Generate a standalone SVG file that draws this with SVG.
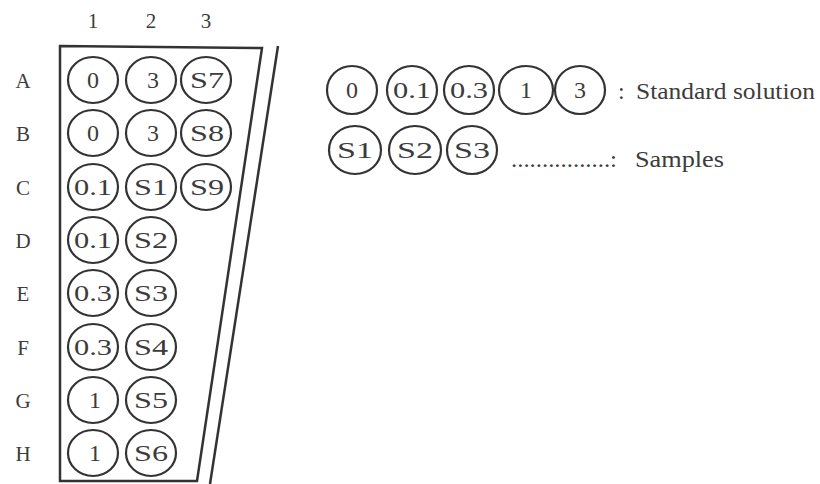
<svg xmlns="http://www.w3.org/2000/svg" width="820" height="484" viewBox="0 0 820 484">
<style>
.bg{fill:#ffffff}
.plate{fill:none;stroke:#333;stroke-width:2.5}
.well{fill:none;stroke:#333;stroke-width:2.2}
.t{font-family:"Liberation Serif","Times New Roman",serif;fill:#3c3c3c;text-anchor:middle}
.w{font-size:24px}
.lab{font-size:21px}
.leg{font-family:"Liberation Serif","Times New Roman",serif;fill:#3c3c3c;font-size:24px}
</style>
<rect class="bg" x="0" y="0" width="820" height="484"/>
<g id="columns">
<text class="t lab" x="93" y="28">1</text>
<text class="t lab" x="151" y="28">2</text>
<text class="t lab" x="206" y="28">3</text>
</g>
<g id="rows">
<text class="t lab" x="23" y="88">A</text>
<text class="t lab" x="23" y="141">B</text>
<text class="t lab" x="23" y="195">C</text>
<text class="t lab" x="23" y="248">D</text>
<text class="t lab" x="23" y="301">E</text>
<text class="t lab" x="23" y="355">F</text>
<text class="t lab" x="23" y="408">G</text>
<text class="t lab" x="23" y="461">H</text>
</g>
<g id="plate">
<polygon class="plate" points="60,46 262,48 197,481 60,481"/>
<line class="plate" x1="278" y1="46" x2="210" y2="484"/>
</g>
<g id="wells">
<g id="A1"><ellipse class="well" cx="93" cy="80" rx="25" ry="23"/><text class="t w" x="93" y="88">0</text></g>
<g id="A2"><ellipse class="well" cx="151" cy="80" rx="25" ry="23"/><text class="t w" x="153" y="88">3</text></g>
<g id="A3"><ellipse class="well" cx="206" cy="80" rx="25" ry="23"/><text class="t w" x="207" y="88" textLength="34" lengthAdjust="spacingAndGlyphs">S7</text></g>
<g id="B1"><ellipse class="well" cx="93" cy="133" rx="25" ry="23"/><text class="t w" x="93" y="141">0</text></g>
<g id="B2"><ellipse class="well" cx="151" cy="133" rx="25" ry="23"/><text class="t w" x="153" y="141">3</text></g>
<g id="B3"><ellipse class="well" cx="206" cy="133" rx="25" ry="23"/><text class="t w" x="207" y="141" textLength="34" lengthAdjust="spacingAndGlyphs">S8</text></g>
<g id="C1"><ellipse class="well" cx="93" cy="187" rx="25" ry="23"/><text class="t w" x="93" y="195" textLength="38" lengthAdjust="spacingAndGlyphs">0.1</text></g>
<g id="C2"><ellipse class="well" cx="151" cy="187" rx="25" ry="23"/><text class="t w" x="151" y="195" textLength="34" lengthAdjust="spacingAndGlyphs">S1</text></g>
<g id="C3"><ellipse class="well" cx="206" cy="187" rx="25" ry="23"/><text class="t w" x="207" y="195" textLength="34" lengthAdjust="spacingAndGlyphs">S9</text></g>
<g id="D1"><ellipse class="well" cx="93" cy="240" rx="25" ry="23"/><text class="t w" x="93" y="248" textLength="38" lengthAdjust="spacingAndGlyphs">0.1</text></g>
<g id="D2"><ellipse class="well" cx="151" cy="240" rx="25" ry="23"/><text class="t w" x="151" y="248" textLength="34" lengthAdjust="spacingAndGlyphs">S2</text></g>
<g id="E1"><ellipse class="well" cx="93" cy="293" rx="25" ry="23"/><text class="t w" x="93" y="301" textLength="38" lengthAdjust="spacingAndGlyphs">0.3</text></g>
<g id="E2"><ellipse class="well" cx="151" cy="293" rx="25" ry="23"/><text class="t w" x="151" y="301" textLength="34" lengthAdjust="spacingAndGlyphs">S3</text></g>
<g id="F1"><ellipse class="well" cx="93" cy="347" rx="25" ry="23"/><text class="t w" x="93" y="355" textLength="38" lengthAdjust="spacingAndGlyphs">0.3</text></g>
<g id="F2"><ellipse class="well" cx="151" cy="347" rx="25" ry="23"/><text class="t w" x="151" y="355" textLength="34" lengthAdjust="spacingAndGlyphs">S4</text></g>
<g id="G1"><ellipse class="well" cx="93" cy="400" rx="25" ry="23"/><text class="t w" x="95" y="408">1</text></g>
<g id="G2"><ellipse class="well" cx="151" cy="400" rx="25" ry="23"/><text class="t w" x="151" y="408" textLength="34" lengthAdjust="spacingAndGlyphs">S5</text></g>
<g id="H1"><ellipse class="well" cx="93" cy="453" rx="25" ry="23"/><text class="t w" x="95" y="461">1</text></g>
<g id="H2"><ellipse class="well" cx="151" cy="453" rx="25" ry="23"/><text class="t w" x="151" y="461" textLength="34" lengthAdjust="spacingAndGlyphs">S6</text></g>
</g>
<g id="legend-standard">
<g id="L0"><ellipse class="well" cx="352" cy="90" rx="25" ry="24"/><text class="t w" x="352" y="98">0</text></g>
<g id="L01"><ellipse class="well" cx="412" cy="90" rx="25" ry="24"/><text class="t w" x="412" y="98" textLength="38" lengthAdjust="spacingAndGlyphs">0.1</text></g>
<g id="L03"><ellipse class="well" cx="469" cy="90" rx="25" ry="24"/><text class="t w" x="469" y="98" textLength="38" lengthAdjust="spacingAndGlyphs">0.3</text></g>
<g id="L1"><ellipse class="well" cx="526" cy="90" rx="27" ry="24"/><text class="t w" x="526" y="98">1</text></g>
<g id="L3"><ellipse class="well" cx="580" cy="90" rx="25" ry="24"/><text class="t w" x="580" y="98">3</text></g>
<text class="leg" x="618" y="99">:</text>
<text class="leg" x="636" y="99" textLength="179" lengthAdjust="spacingAndGlyphs">Standard solution</text>
</g>
<g id="legend-samples">
<g id="LS1"><ellipse class="well" cx="355" cy="150" rx="26" ry="24"/><text class="t w" x="355" y="158" textLength="36" lengthAdjust="spacingAndGlyphs">S1</text></g>
<g id="LS2"><ellipse class="well" cx="415" cy="150" rx="26" ry="24"/><text class="t w" x="415" y="158" textLength="36" lengthAdjust="spacingAndGlyphs">S2</text></g>
<g id="LS3"><ellipse class="well" cx="472" cy="150" rx="25" ry="24"/><text class="t w" x="472" y="158" textLength="36" lengthAdjust="spacingAndGlyphs">S3</text></g>
<text class="leg" x="511" y="167" textLength="106" lengthAdjust="spacingAndGlyphs">................:</text>
<text class="leg" x="635" y="167" textLength="89" lengthAdjust="spacingAndGlyphs">Samples</text>
</g>
</svg>
